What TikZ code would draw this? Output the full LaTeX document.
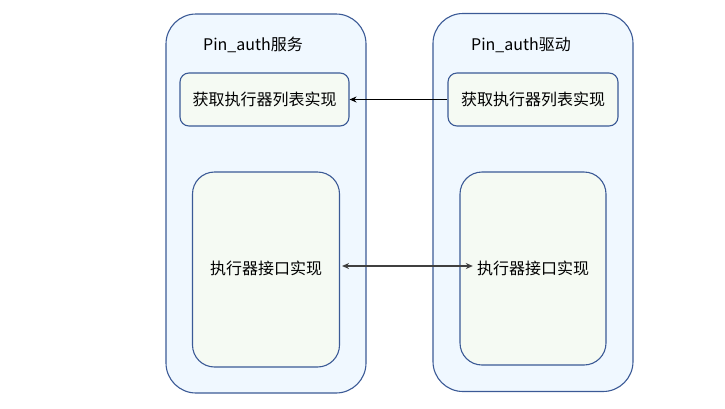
\documentclass[tikz,border=0pt]{standalone}
\usepackage{fontspec}
\setmainfont{Noto Sans CJK SC}
\usetikzlibrary{arrows.meta}
\definecolor{boxline}{HTML}{3B5A96}
\definecolor{outerfill}{HTML}{F0F8FF}
\definecolor{innerfill}{HTML}{F5FAF3}
\tikzset{
  container/.style={draw=boxline, line width=1.1pt, fill=outerfill, rounded corners=30pt, minimum width=200pt, inner sep=0pt},
  listbox/.style={draw=boxline, line width=1.1pt, fill=innerfill, rounded corners=9pt, minimum width=169pt, minimum height=53pt, inner sep=0pt, font=\fontsize{16}{19}\selectfont},
  implbox/.style={draw=boxline, line width=1.1pt, fill=innerfill, rounded corners=22pt, minimum width=147pt, inner sep=0pt},
  title/.style={font=\fontsize{16}{19}\selectfont},
  label/.style={font=\fontsize{16}{19}\selectfont, inner sep=0pt},
  callarrow/.style={-{Stealth[length=7pt,width=6pt]}, black, line width=1pt},
  linkarrow/.style={{Stealth[length=7pt,width=6pt]}-{Stealth[length=7pt,width=6pt]}, black!75, line width=1.5pt}
}
\begin{document}
\begin{tikzpicture}[x=1pt, y=-1pt]
  \useasboundingbox (0,0) rectangle (725,408);

  % service side
  \node[container, minimum height=379pt] (service) at (266,203.5) {};
  \node[title] (servicetitle) at (253,45) {Pin\_auth服务};
  \node[listbox] (servicelist) at (264.5,99.5) {获取执行器列表实现};
  \node[implbox, minimum height=195pt] (serviceimpl) at (266,269.5) {};
  \node[label] (serviceimpltext) at (266,268) {执行器接口实现};

  % driver side
  \node[container, minimum height=378pt] (driver) at (533,202.5) {};
  \node[title] (drivertitle) at (521,45) {Pin\_auth驱动};
  \node[listbox, minimum width=170pt] (driverlist) at (533,99.5) {获取执行器列表实现};
  \node[implbox, minimum width=146pt, minimum height=193pt] (driverimpl) at (533,268.5) {};
  \node[label] (driverimpltext) at (533,268) {执行器接口实现};

  \draw[callarrow] (driverlist.west) -- (servicelist.east);
  \draw[linkarrow, shorten <=2pt, shorten >=4pt] (serviceimpl.east |- 0,266) -- (driverimpltext.west |- 0,266);
\end{tikzpicture}
\end{document}
